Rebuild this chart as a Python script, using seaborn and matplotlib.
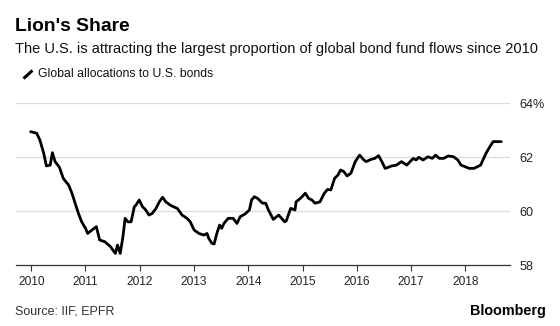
import matplotlib
matplotlib.use("Agg")
import matplotlib.pyplot as plt
from matplotlib.lines import Line2D
import seaborn as sns
import pandas as pd

# Global allocations to U.S. bonds, % of global bond fund flows (decimal year)
years = [2009.99, 2010.10, 2010.16, 2010.23, 2010.28, 2010.35, 2010.39, 2010.44, 2010.52,
         2010.59, 2010.69, 2010.75, 2010.81, 2010.87, 2010.93, 2011.00, 2011.04, 2011.12,
         2011.20, 2011.26, 2011.36, 2011.46, 2011.55, 2011.59, 2011.64, 2011.69, 2011.73,
         2011.78, 2011.84, 2011.90, 2011.93, 2011.99, 2012.05, 2012.11, 2012.17, 2012.23,
         2012.30, 2012.36, 2012.42, 2012.48, 2012.56, 2012.62, 2012.69, 2012.78, 2012.87,
         2012.93, 2013.00, 2013.09, 2013.18, 2013.24, 2013.27, 2013.33, 2013.37, 2013.42,
         2013.47, 2013.51, 2013.55, 2013.63, 2013.72, 2013.79, 2013.85, 2013.94, 2014.02,
         2014.06, 2014.11, 2014.17, 2014.26, 2014.32, 2014.37, 2014.46, 2014.56, 2014.67,
         2014.70, 2014.78, 2014.86, 2014.88, 2014.96, 2015.05, 2015.11, 2015.17, 2015.23,
         2015.32, 2015.40, 2015.46, 2015.52, 2015.59, 2015.65, 2015.70, 2015.76, 2015.82,
         2015.89, 2015.97, 2016.05, 2016.13, 2016.17, 2016.26, 2016.33, 2016.40, 2016.46,
         2016.52, 2016.58, 2016.64, 2016.73, 2016.82, 2016.92, 2016.98, 2017.04, 2017.09,
         2017.14, 2017.22, 2017.31, 2017.39, 2017.45, 2017.52, 2017.60, 2017.68, 2017.78,
         2017.86, 2017.92, 2018.02, 2018.07, 2018.16, 2018.28, 2018.38, 2018.45, 2018.51,
         2018.57, 2018.66]
values = [62.94, 62.88, 62.63, 62.14, 61.67, 61.70, 62.16, 61.83, 61.62,
          61.21, 60.96, 60.66, 60.29, 59.91, 59.60, 59.36, 59.17, 59.30,
          59.42, 58.93, 58.86, 58.68, 58.43, 58.74, 58.43, 59.05, 59.73,
          59.60, 59.60, 60.16, 60.22, 60.41, 60.16, 60.04, 59.85, 59.91,
          60.10, 60.34, 60.51, 60.34, 60.22, 60.16, 60.10, 59.85, 59.73,
          59.60, 59.30, 59.17, 59.11, 59.17, 58.99, 58.80, 58.78, 59.17,
          59.48, 59.36, 59.54, 59.73, 59.73, 59.54, 59.79, 59.89, 60.04,
          60.41, 60.53, 60.47, 60.29, 60.29, 60.04, 59.69, 59.85, 59.60,
          59.64, 60.10, 60.04, 60.34, 60.47, 60.66, 60.47, 60.41, 60.29,
          60.34, 60.66, 60.80, 60.78, 61.21, 61.33, 61.52, 61.46, 61.30,
          61.40, 61.83, 62.07, 61.89, 61.83, 61.91, 61.95, 62.05, 61.83,
          61.58, 61.62, 61.67, 61.70, 61.83, 61.70, 61.83, 61.95, 61.89,
          61.99, 61.89, 62.01, 61.95, 62.07, 61.95, 61.95, 62.04, 62.01,
          61.89, 61.70, 61.62, 61.58, 61.58, 61.70, 62.14, 62.38, 62.57,
          62.57, 62.57]

year_ticks = list(range(2010, 2019))
year_labels = [str(y) for y in year_ticks]
pct_ticks = [58, 60, 62, 64]
pct_labels = ["58", "60", "62", "64%"]

df = pd.DataFrame({"year": years, "share": values})

sns.set_theme(style="white")
plt.rcParams["font.family"] = ["Liberation Sans", "DejaVu Sans"]

fig = plt.figure(figsize=(5.6, 3.26), dpi=100)
ax = fig.add_axes([0.0286, 0.187, 0.882, 0.497])

sns.lineplot(data=df, x="year", y="share", ax=ax, color="black", linewidth=2.0)

ax.set_xlim(2009.72, 2018.82)
ax.set_ylim(58, 64)
ax.set_xticks(year_ticks)
ax.set_xticklabels(year_labels, fontsize=8.6, color="#222222")
ax.set_yticks(pct_ticks)
ax.set_yticklabels(pct_labels, fontsize=9.1, color="#222222")
ax.yaxis.tick_right()
ax.tick_params(axis="y", length=0, pad=7)
ax.tick_params(axis="x", length=4, width=0.8, color="#333333", direction="out",
               bottom=True, pad=4)
ax.grid(axis="y", color="#dcdcdc", linewidth=0.9)
ax.grid(axis="x", visible=False)
ax.set_xlabel("")
ax.set_ylabel("")
for side in ["top", "left", "right"]:
    ax.spines[side].set_visible(False)
ax.spines["bottom"].set_color("#333333")
ax.spines["bottom"].set_linewidth(0.9)
ax.set_axisbelow(True)

fig.text(0.027, 0.920, "Lion's Share", fontsize=13.9, fontweight="bold",
         color="black", va="center")
fig.text(0.027, 0.850, "The U.S. is attracting the largest proportion of global bond fund flows since 2010",
         fontsize=10.5, color="#111111", va="center")
fig.add_artist(Line2D([0.042, 0.058], [0.759, 0.784], transform=fig.transFigure,
                      color="black", linewidth=2.2, solid_capstyle="butt"))
fig.text(0.068, 0.773, "Global allocations to U.S. bonds", fontsize=8.85,
         color="#111111", va="center")
fig.text(0.027, 0.046, "Source: IIF, EPFR", fontsize=9.0, color="#333333", va="center")
fig.text(0.975, 0.046, "Bloomberg", fontsize=10.4, fontweight="bold",
         color="black", va="center", ha="right")

fig.savefig("out.png", dpi=100)
